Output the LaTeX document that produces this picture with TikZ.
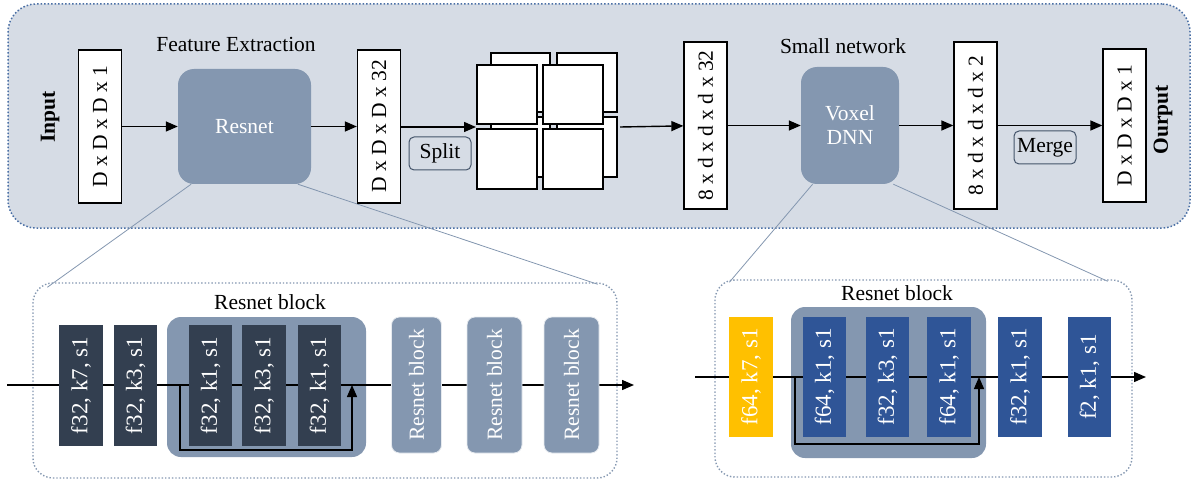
\documentclass[tikz,border=0pt]{standalone}
\usepackage{fontspec}
\setmainfont{Liberation Serif}
\usetikzlibrary{arrows.meta,calc,backgrounds}
\definecolor{bgblue}{HTML}{D6DCE5}
\definecolor{midblue}{HTML}{8497B0}
\definecolor{darknavy}{HTML}{333F50}
\definecolor{royal}{HTML}{2F5597}
\definecolor{gold}{HTML}{FFC000}
\definecolor{slate}{HTML}{44546A}
\definecolor{dotblue}{HTML}{4A6FA5}
\tikzset{
  fs/.style={font=\fontsize{21.5}{25}\selectfont},
  fl/.style={font=\fontsize{23}{26}\selectfont},
  tensor/.style={draw=black, fill=white, line width=1.3pt, minimum width=43pt, inner sep=0pt, fs},
  bignet/.style={fill=midblue, rounded corners=16pt, text=white, inner sep=0pt, fs, align=center},
  tag/.style={draw=slate, line width=1pt, rounded corners=5pt, minimum width=62pt, minimum height=33pt, inner sep=0pt, fs},
  sq/.style={draw=black, fill=white, line width=1.3pt},
  flow/.style={line width=1.4pt, -{Triangle[length=12pt,width=10pt]}},
  zoomline/.style={draw=midblue, line width=0.8pt},
  panel/.style={draw=midblue, dotted, line width=1.4pt, rounded corners=20pt},
  layer/.style={inner sep=0pt, minimum height=121pt, text=white, fl},
  group/.style={fill=midblue, rounded corners=14pt},
  lightblock/.style={fill=midblue, draw=white!80!midblue, line width=0.8pt, rounded corners=8pt, minimum height=136pt, inner sep=0pt, text=white, fs},
  skip/.style={line width=1.4pt, -{Triangle[length=12pt,width=10pt]}},
  title/.style={fs, inner sep=0pt}
}
\begin{document}
\begin{tikzpicture}[x=1pt,y=-1pt]
\useasboundingbox (0,0) rectangle (1196,481);

% top row nodes
\node[title, font=\fontsize{21.5}{25}\selectfont\bfseries] (input) at (50,117) {\rotatebox{90}{Input}};
\node[tensor, minimum height=153pt] (t1) at (100,126.5) {\rotatebox{90}{D x D x D x 1}};
\node[bignet, minimum width=133pt, minimum height=115pt] (resnet) at (244.5,126.5) {Resnet};
\node[title] (fe) at (236,44) {Feature Extraction};
\node[tensor, minimum height=153pt] (t2) at (379,126.5) {\rotatebox{90}{D x D x D x 32}};
\node[tag] (split) at (440,153.5) {Split};
% split squares
\draw[sq] (491,53) rectangle (550,112);
\draw[sq] (557,53) rectangle (617,112);
\draw[sq] (491,117) rectangle (550,177);
\draw[sq] (557,117) rectangle (617,177);
\draw[sq] (477,65) rectangle (537,124);
\draw[sq] (543,65) rectangle (603,124);
\draw[sq] (477,129) rectangle (537,189);
\draw[sq] (543,129) rectangle (603,189);
\coordinate (gin) at (476,127);
\coordinate (gout) at (620,127);
\node[tensor, minimum height=167pt] (t3) at (705.5,125.5) {\rotatebox{90}{8 x d x d x d x 32}};
\node[title] (sn) at (843,46) {Small network};
\node[bignet, minimum width=98pt, minimum height=117pt] (voxel) at (850,125.5) {Voxel\\[-1pt]DNN};
\node[tensor, minimum height=167pt] (t4) at (975.5,125.5) {\rotatebox{90}{8 x d x d x d x 2}};
\node[tag] (merge) at (1045,147.5) {Merge};
\node[tensor, minimum height=153pt] (t5) at (1124.5,125.5) {\rotatebox{90}{D x D x D x 1}};
\node[title, font=\fontsize{21.5}{25}\selectfont\bfseries] (output) at (1163,120) {\rotatebox{90}{Ourput}};

% top arrows
\draw[flow] (t1) -- (resnet);
\draw[flow] (resnet) -- (t2);
\draw[flow] (t2.east |- gin) -- (gin);
\draw[flow] (gout) -- (t3);
\draw[flow] (t3) -- (voxel);
\draw[flow] (voxel) -- (t4);
\draw[flow] (t4) -- (t5);

% ---------- bottom left ----------
\node[group, minimum width=199pt, minimum height=140pt, inner sep=0pt] (g1) at (266.5,387) {};
\node[title] (rb1) at (270,302) {Resnet block};
\coordinate (Lstart) at (7,385);
\coordinate (Lend) at (634,385);
\draw[flow] (Lstart) -- (Lend);
\coordinate (sk1) at (180,385);
\coordinate (sk2) at (352,385);
\draw[skip] (sk1) -- ++(0,65) -| (sk2);
\node[layer, fill=darknavy, minimum width=44pt] (b1) at (81,385.5) {\rotatebox{90}{f32, k7, s1}};
\node[layer, fill=darknavy, minimum width=43pt] (b2) at (135.5,385.5) {\rotatebox{90}{f32, k3, s1}};
\node[layer, fill=darknavy, minimum width=43pt] (c1) at (210.5,385.5) {\rotatebox{90}{f32, k1, s1}};
\node[layer, fill=darknavy, minimum width=44pt] (c2) at (264,385.5) {\rotatebox{90}{f32, k3, s1}};
\node[layer, fill=darknavy, minimum width=43pt] (c3) at (319.5,385.5) {\rotatebox{90}{f32, k1, s1}};
\node[lightblock, minimum width=50pt] (r1) at (416.5,385) {\rotatebox{90}{Resnet block}};
\node[lightblock, minimum width=55pt] (r2) at (494.5,385) {\rotatebox{90}{Resnet block}};
\node[lightblock, minimum width=55pt] (r3) at (571.5,385) {\rotatebox{90}{Resnet block}};

% ---------- bottom right ----------
\node[group, minimum width=195pt, minimum height=151pt, inner sep=0pt] (g2) at (888.5,382.5) {};
\node[title] (rb2) at (897,293) {Resnet block};
\coordinate (Rstart) at (695,377);
\coordinate (Rend) at (1146,377);
\draw[flow] (Rstart) -- (Rend);
\coordinate (sk3) at (795,377);
\coordinate (sk4) at (979,377);
\draw[skip] (sk3) -- ++(0,67) -| (sk4);
\node[layer, fill=gold, minimum width=44pt, minimum height=120pt] (y1) at (751,377) {\rotatebox{90}{f64, k7, s1}};
\node[layer, fill=royal, minimum width=43pt, minimum height=120pt] (d1) at (824.5,377) {\rotatebox{90}{f64, k1, s1}};
\node[layer, fill=royal, minimum width=43pt, minimum height=120pt] (d2) at (887.5,377) {\rotatebox{90}{f32, k3, s1}};
\node[layer, fill=royal, minimum width=44pt, minimum height=120pt] (d3) at (949,377) {\rotatebox{90}{f64, k1, s1}};
\node[layer, fill=royal, minimum width=44pt, minimum height=120pt] (d4) at (1020,377) {\rotatebox{90}{f32, k1, s1}};
\node[layer, fill=royal, minimum width=43pt, minimum height=120pt] (d5) at (1089.5,377) {\rotatebox{90}{f2, k1, s1}};

% backgrounds, panels and zoom lines
\begin{scope}[on background layer]
\node[draw=dotblue, dotted, line width=1.5pt, fill=bgblue, rounded corners=28pt, minimum width=1182pt, minimum height=224pt, inner sep=0pt] (top) at (599,116) {};
\node[panel, minimum width=584pt, minimum height=195pt, inner sep=0pt] (panelL) at (325,380.5) {};
\node[panel, minimum width=417pt, minimum height=197pt, inner sep=0pt] (panelR) at (923.5,378.5) {};
\draw[zoomline] ($(resnet.south west)!0.1!(resnet.south east)$) -- ([shift={(15,5)}]panelL.north west);
\draw[zoomline] ($(resnet.south west)!0.9!(resnet.south east)$) -- ([shift={(-20,2)}]panelL.north east);
\draw[zoomline] ($(voxel.south west)!0.12!(voxel.south east)$) -- ([shift={(15,3)}]panelR.north west);
\draw[zoomline] ($(voxel.south west)!0.94!(voxel.south east)$) -- ([shift={(-25,2)}]panelR.north east);
\end{scope}
\end{tikzpicture}
\end{document}
